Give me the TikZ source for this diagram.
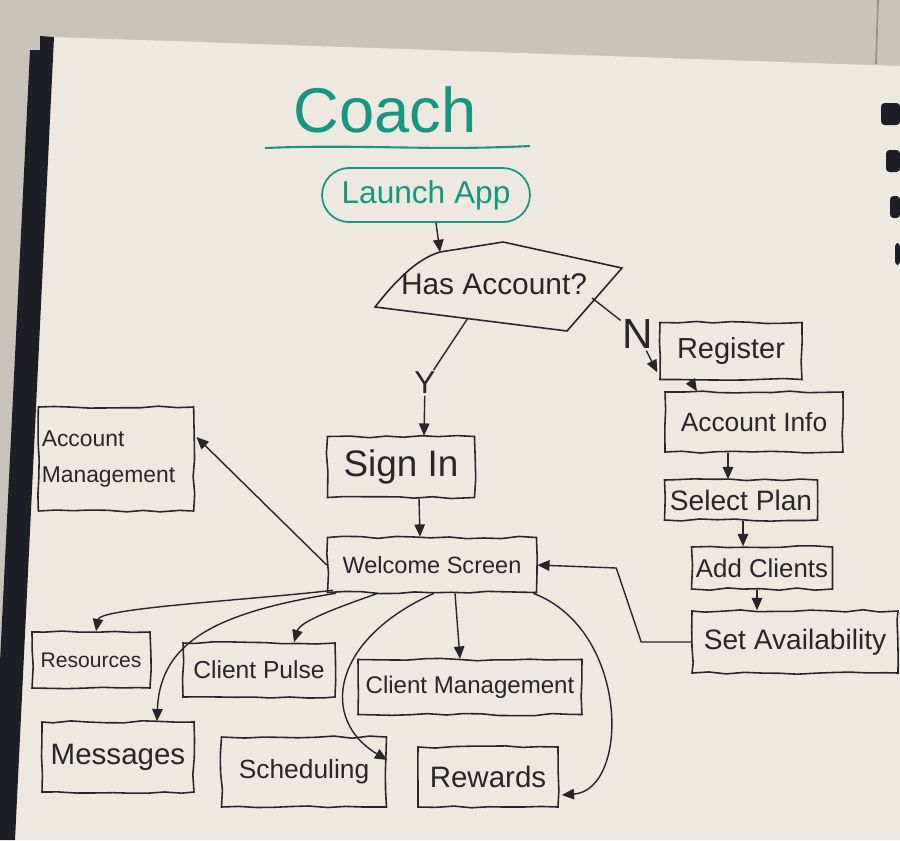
\documentclass[tikz,border=0pt]{standalone}
\usepackage{fontspec}
\setmainfont{Liberation Sans}
\usetikzlibrary{arrows.meta,calc,decorations.pathmorphing}

\definecolor{wall}{RGB}{201,196,187}
\definecolor{paper}{RGB}{237,233,225}
\definecolor{binder}{RGB}{30,31,38}
\definecolor{ink}{RGB}{40,38,40}
\definecolor{marker}{RGB}{24,150,130}

\newcommand{\penfont}[1]{\fontsize{#1}{#1}\selectfont}

\begin{document}
\begin{tikzpicture}[x=0.02cm, y=-0.02cm,
    box/.style={draw=ink, line width=0.9pt, text=ink, inner sep=2pt,
      decorate, decoration={random steps, segment length=10pt, amplitude=0.7pt}},
    arr/.style={draw=ink, line width=0.8pt, -{Triangle[length=7pt,width=6pt]}},
    lab/.style={text=ink, inner sep=1pt}]
    \pgfmathsetseed{11}
    \useasboundingbox (0,0) rectangle (900,840);

    % notebook on the wall
    \fill[wall] (0,0) rectangle (900,840);
    \fill[paper] (52,37) -- (900,66) -- (900,840) -- (15,840) -- cycle;
    \fill[binder] (40,36) -- (54,37) -- (15,840) -- (0,840) -- (0,662) -- (30,50) -- (40,50) -- cycle;
    \draw[wall!75!black, line width=1pt] (878,0) -- (876,64);
    \foreach \y/\x in {103/881, 150/886, 196/890, 243/895}
      \fill[binder, rounded corners=2pt] (\x,\y) rectangle (900,\y+22);

    % title
    \node[text=marker, font=\penfont{36}] (title) at (385,110) {Coach};
    \draw[marker, line width=1.2pt] (265,148) .. controls (360,144) and (430,151) .. (530,146);

    \node[draw=marker, text=marker, line width=1pt, rounded corners=0.54cm,
      minimum width=4.16cm, minimum height=1.08cm, font=\penfont{18}] (launch) at (426,195) {Launch App};

    % decision
    \draw[ink, line width=0.9pt] (375,307) .. controls (400,275) and (420,258) .. (440,252)
      -- (503,242) -- (622,268) -- (567,331) -- cycle;
    \node[lab, font=\penfont{17}] (has) at (494,284) {Has Account?};
    \coordinate (hastop) at (440,252);
    \coordinate (hasy) at (468,318);
    \coordinate (hasn) at (592,298);
    \node[lab, font=\penfont{18}] (ylab) at (425,383) {Y};
    \node[lab, font=\penfont{24}] (nlab) at (638,334) {N};

    % register branch
    \node[box, minimum width=2.84cm, minimum height=1.14cm, font=\penfont{16.5}] (reg) at (731,351) {Register};
    \node[box, minimum width=3.56cm, minimum height=1.2cm, font=\penfont{15}] (info) at (754,422) {Account Info};
    \node[box, minimum width=3.06cm, minimum height=0.8cm, font=\penfont{16}] (plan) at (741,500) {Select Plan};
    \node[box, minimum width=2.82cm, minimum height=0.84cm, font=\penfont{14.7}] (add) at (762,568) {Add Clients};
    \node[box, minimum width=4.12cm, minimum height=1.24cm, font=\penfont{16}] (avail) at (795,642) {Set Availability};

    % sign in branch
    \node[box, minimum width=2.94cm, minimum height=1.22cm, font=\penfont{21}] (sign) at (401,467) {Sign In};
    \node[box, minimum width=4.18cm, minimum height=1.1cm, font=\penfont{13.4}] (welcome) at (432,565) {Welcome Screen};
    \node[box, minimum width=2.9cm, minimum height=2.08cm, align=left, anchor=center,
      font=\fontsize{13}{20}\selectfont] (acct) at (116,459) {Account\\Management\hspace*{0.3cm}};

    % screens
    \node[box, minimum width=2.36cm, minimum height=1.12cm, font=\penfont{12}] (res) at (91,660) {Resources};
    \node[box, minimum width=3.04cm, minimum height=1.08cm, font=\penfont{14}] (pulse) at (259,670) {Client Pulse};
    \node[box, minimum width=4.48cm, minimum height=1.1cm, font=\penfont{13.7}] (cman) at (470,687) {Client Management};
    \node[box, minimum width=3.04cm, minimum height=1.4cm, font=\penfont{16.8}] (msg) at (118,757) {Messages};
    \node[box, minimum width=3.3cm, minimum height=1.4cm, font=\penfont{15}] (sched) at (304,772) {Scheduling};
    \node[box, minimum width=2.8cm, minimum height=1.2cm, font=\penfont{16.8}] (rew) at (488,777) {Rewards};

    % connectors
    \draw[arr] ($(launch.south)+(10,0)$) -- (hastop);
    \draw[ink, line width=0.8pt] (hasy) -- (ylab);
    \draw[arr] (ylab) -- ($(sign.north)+(23,0)$);
    \draw[ink, line width=0.8pt] (hasn) -- (nlab);
    \draw[arr] (nlab) -- ($(reg.south west)+(-2,-8)$);

    \draw[arr] ($(reg.south)+(-41,0)$) -- ($(info.north)+(-57,0)$);
    \draw[arr] ($(info.south)+(-26,0)$) -- ($(plan.north)+(-13,0)$);
    \draw[arr] ($(plan.south)+(2,0)$) -- ($(add.north)+(-19,0)$);
    \draw[arr] ($(add.south)+(-5,0)$) -- ($(avail.north)+(-38,0)$);
    \draw[arr] (avail.west) -- ++(-50,0) -- ++(-25,-74) -- (welcome.east);

    \draw[arr] ($(sign.south)+(18,0)$) -- ($(welcome.north)+(-12,0)$);
    \draw[arr] (welcome.west) -- ($(acct.east)+(2,-22)$);
    \draw[arr] ($(welcome.south west)+(6,-3)$) .. controls (250,600) and (100,608) .. ($(res.north)+(5,0)$);
    \draw[arr] ($(welcome.south west)+(9,0)$) .. controls (220,612) and (160,640) .. ($(msg.north)+(39,0)$);
    \draw[arr] ($(welcome.south)+(-54,0)$) .. controls (330,610) and (300,622) .. ($(pulse.north)+(35,0)$);
    \draw[arr] ($(welcome.south)+(2,0)$) .. controls (330,640) and (320,720) .. ($(sched.east)+(0,-12)$);
    \draw[arr] ($(welcome.south)+(23,0)$) -- ($(cman.north)+(-10,0)$);
    \draw[arr] ($(welcome.south east)+(-4,0)$) .. controls (630,630) and (630,790) .. ($(rew.east)+(3,18)$);
\end{tikzpicture}
\end{document}
